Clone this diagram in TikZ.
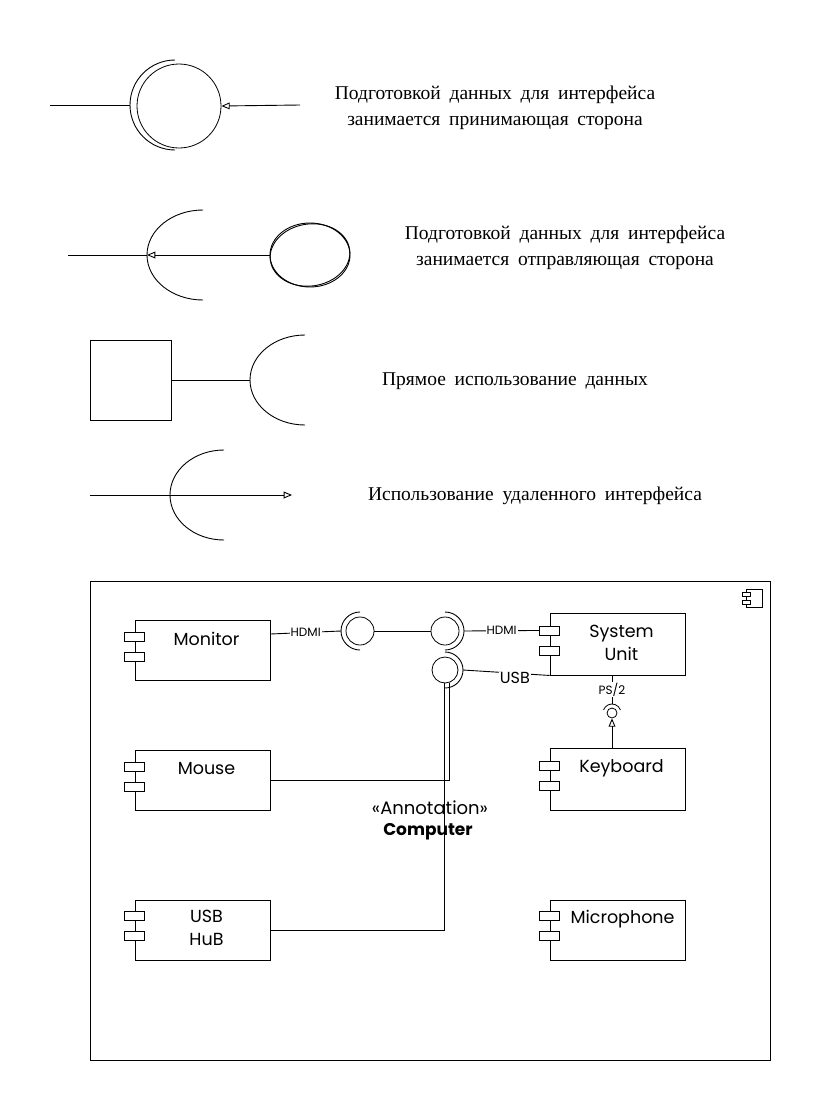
\documentclass[tikz,border=0pt]{standalone}
\usepackage{fontspec}
\setmainfont{Liberation Serif}
\newfontfamily\notefont{Liberation Serif}[WordSpace=1.8]
\newfontfamily\hand{Poppins}
\usetikzlibrary{arrows, positioning, shapes.geometric}

\tikzset{
  note/.style={font=\notefont\fontsize{19.5}{26}\selectfont, align=center},
  comp/.style={draw, line width=0.9pt, minimum width=135pt, minimum height=60pt, inner sep=0pt},
  compname/.style={font=\hand\fontsize{17.5}{23}\selectfont, align=center, inner sep=0pt},
  port/.style={draw, fill=white, line width=0.8pt, minimum width=20pt, minimum height=9pt, inner sep=0pt},
  sock/.style={draw, circle, line width=0.8pt, inner sep=0pt},
  tag/.style={fill=white, inner sep=1pt, font=\hand\fontsize{12}{13}\selectfont},
}

\begin{document}
\begin{tikzpicture}[x=1pt, y=-1pt, line width=0.9pt]
\useasboundingbox (0,0) rectangle (821,1111);

% receiving side prepares the data
\node[sock, minimum size=84pt] (rcv) at (179,106) {};
\coordinate (rcvin) at (50,105);
\coordinate (rcvcup) at (130,105);
\coordinate (rcvout) at (300,105);
\draw (175,60) arc[start angle=90, end angle=270, radius=45pt];
\draw (rcvin) -- (rcvcup);
\draw[-open triangle 45] (rcvout) -- (rcv.east);
\node[note] (rcvtext) at (495,108) {Подготовкой данных для интерфейса\\занимается принимающая сторона};

% sending side prepares the data
\node[draw, ellipse, minimum width=80pt, minimum height=64pt, inner sep=0pt] (snd) at (310,255) {};
\draw[rotate around={8:(310,255)}] (310,255) ellipse [x radius=40pt, y radius=31pt];
\coordinate (sndin) at (68,255);
\coordinate (sndcup) at (147,255);
\draw (203,210) arc[start angle=90, end angle=270, x radius=56pt, y radius=45pt];
\draw (sndin) -- (sndcup);
\draw[-open triangle 45] (snd.west) -- (sndcup);
\node[note] (sndtext) at (565,248) {Подготовкой данных для интерфейса\\занимается отправляющая сторона};

% direct use
\node[draw, minimum width=81pt, minimum height=80pt, inner sep=0pt] (blk) at (130.5,380) {};
\coordinate (blkcup) at (250,380);
\draw (305,335) arc[start angle=90, end angle=270, x radius=55pt, y radius=45pt];
\draw (blk.east) -- (blkcup);
\node[note] (blktext) at (515,381) {Прямое использование данных};

% remote use
\coordinate (remin) at (90,495);
\coordinate (remout) at (292,495);
\draw (224,450) arc[start angle=90, end angle=270, x radius=54pt, y radius=45pt];
\draw[-open triangle 45] (remin) -- (remout);
\node[note] (remtext) at (535,496) {Использование удаленного интерфейса};

% computer
\node[draw, minimum width=680pt, minimum height=479pt, inner sep=0pt] (pc) at (430,820.5) {};
\draw[line width=0.8pt] (746,589) rectangle (762,607);
\draw[line width=0.8pt, fill=white] (742,592) rectangle (750,596);
\draw[line width=0.8pt, fill=white] (742,600) rectangle (750,604);
\node[font=\hand\fontsize{18}{20}\selectfont, inner sep=0pt] (anno) at (430,808) {«Annotation»};
\node[font=\hand\bfseries\fontsize{17}{20}\selectfont, inner sep=0pt] (annoname) at (428,832) {Computer};

\node[comp] (mon) at (202.5,650) {};
\node[port] (mon1) [below=12pt of mon.north west] {};
\node[port] (mon2) [below=11pt of mon1] {};
\node[compname] (monname) [below=12pt of mon.north, xshift=4pt] {Monitor};

\node[comp] (mouse) at (202.5,780) {};
\node[port] (mouse1) [below=12pt of mouse.north west] {};
\node[port] (mouse2) [below=11pt of mouse1] {};
\node[compname] (mousename) [below=12pt of mouse.north, xshift=4pt] {Mouse};

\node[comp] (hub) at (202.5,930) {};
\node[port] (hub1) [below=11pt of hub.north west] {};
\node[port] (hub2) [below=11pt of hub1] {};
\node[compname] (hubname) [below=10pt of hub.north, xshift=4pt] {USB\\HuB};

\node[comp, minimum height=62pt] (sys) at (617.5,644) {};
\node[port] (sys1) [below=13pt of sys.north west] {};
\node[port] (sys2) [below=11pt of sys1] {};
\node[compname] (sysname) [below=12pt of sys.north, xshift=4pt] {System\\Unit};

\node[comp, minimum height=62pt] (kbd) at (617.5,779) {};
\node[port] (kbd1) [below=13pt of kbd.north west] {};
\node[port] (kbd2) [below=11pt of kbd1] {};
\node[compname] (kbdname) [below=12pt of kbd.north, xshift=4pt] {Keyboard};

\node[comp] (mic) at (617.5,930) {};
\node[port] (mic1) [below=11pt of mic.north west] {};
\node[port] (mic2) [below=11pt of mic1] {};
\node[compname] (micname) [below=10pt of mic.north, xshift=5pt] {Microphone};

% sockets
\node[sock, minimum size=28pt] (s1) at (360,631) {};
\node[sock, minimum size=28pt] (s2) at (445,631) {};
\node[sock, minimum size=26pt] (s3) at (445,670) {};
\node[sock, minimum size=10pt] (ps) at (612,713) {};
\draw ([yshift=19pt]s1.center) arc[start angle=90, end angle=270, radius=19pt];
\draw ([yshift=19pt]s2.center) arc[start angle=90, end angle=-90, radius=19pt];
\draw ([yshift=18pt]s3.center) arc[start angle=90, end angle=-90, radius=18pt];
\draw[line width=0.8pt] ([shift={(-8.46pt,3.08pt)}]ps.center) arc[start angle=160, end angle=20, radius=9pt];

% connections
\draw ([yshift=16pt]mon.east) -- node[tag] (hdmi1) {HDMI} ([xshift=-19pt]s1.center);
\draw (s1.east) -- (s2.west);
\draw ([xshift=19pt]s2.center) -- node[tag] (hdmi2) {HDMI} (sys1.west);
\draw ([xshift=18pt]s3.center) -- node[tag, pos=0.6, yshift=-5pt, font=\hand\fontsize{16}{17}\selectfont] (usb) {USB} (sys.south west);
\draw (mouse.east) -| ([xshift=4pt]s3.south);
\draw (hub.east) -| ([xshift=-1pt]s3.south);
\draw[line width=0.8pt] (sys.south -| ps) -- node[tag] (ps2) {PS/2} ([yshift=9pt]ps.center);
\draw[-open triangle 45] (kbd.north -| ps) -- (ps.south);

\end{tikzpicture}
\end{document}
